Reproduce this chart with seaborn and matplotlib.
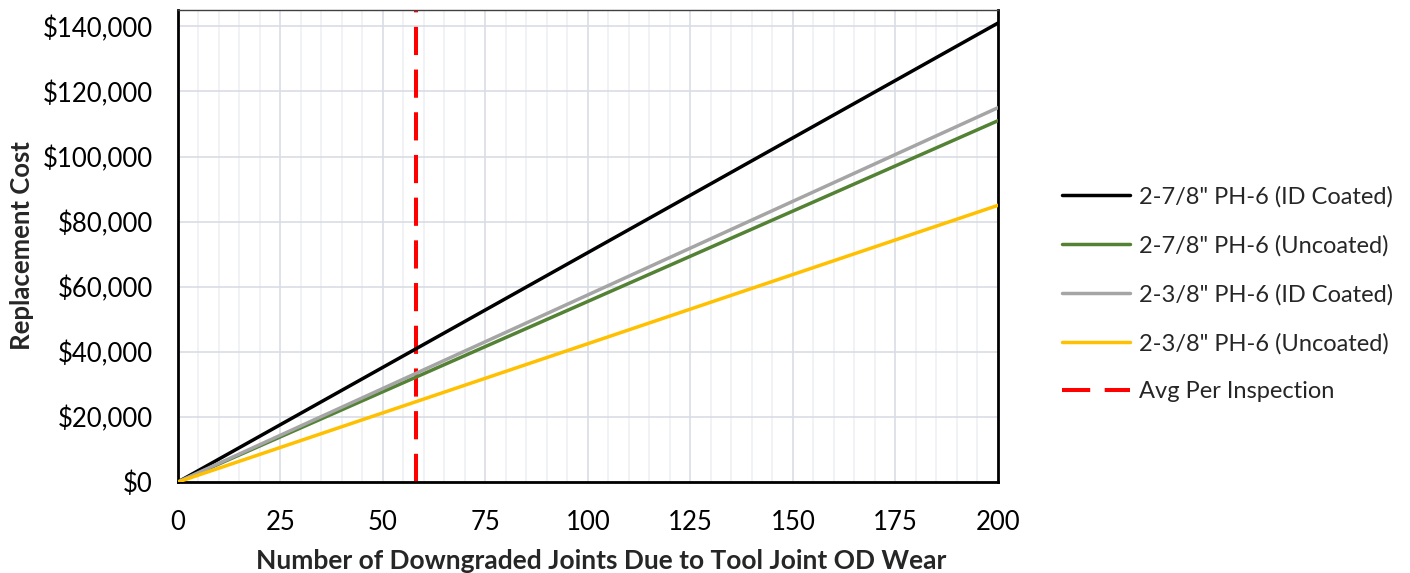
import matplotlib
matplotlib.use("Agg")
import matplotlib.pyplot as plt
import matplotlib.ticker as mticker
import seaborn as sns
import pandas as pd

# Data
joints = [0, 200]
series_names = ['2-7/8" PH-6 (ID Coated)', '2-7/8" PH-6 (Uncoated)',
                '2-3/8" PH-6 (ID Coated)', '2-3/8" PH-6 (Uncoated)']
cost_278_coated = [0, 141000]
cost_278_uncoated = [0, 111000]
cost_238_coated = [0, 115000]
cost_238_uncoated = [0, 85000]
avg_per_inspection = 58
avg_label = "Avg Per Inspection"
colors = ["#000000", "#548235", "#A5A5A5", "#FFC000"]

rows = []
for name, vals in zip(series_names, [cost_278_coated, cost_278_uncoated,
                                      cost_238_coated, cost_238_uncoated]):
    for x, y in zip(joints, vals):
        rows.append({"joints": x, "cost": y, "series": name})
df = pd.DataFrame(rows)

sns.set_theme(style="white")
plt.rcParams['font.family'] = ['Lato', 'DejaVu Sans']

FS = 18.5
fig = plt.figure(figsize=(14.1, 5.73), dpi=100)
ax = fig.add_axes([0.1262, 0.1588, 0.5816, 0.8237])

# grid
ax.set_xticks(range(0, 201, 25))
ax.set_xticks(range(0, 201, 5), minor=True)
ax.set_yticks(range(0, 140001, 20000))
ax.grid(which="major", axis="x", color="#D9DDE4", lw=1.2, zorder=0)
ax.grid(which="minor", axis="x", color="#EEF0F4", lw=1.2, zorder=0)
ax.grid(which="major", axis="y", color="#D9DDE4", lw=1.2, zorder=0)
ax.set_axisbelow(True)

ax.axvline(avg_per_inspection, color="#FF0000", lw=2.9, dashes=(7, 3.6),
           label=avg_label, zorder=1)
sns.lineplot(data=df, x="joints", y="cost", hue="series", hue_order=series_names,
             palette=colors, lw=2.5, ax=ax, zorder=3, legend=True)

ax.set_xlim(0, 200)
ax.set_ylim(0, 145000)
ax.yaxis.set_major_formatter(mticker.FuncFormatter(lambda v, p: f"${v:,.0f}"))
ax.tick_params(axis="both", which="both", length=0, labelsize=FS, colors="black")
ax.tick_params(axis="x", pad=20)
ax.tick_params(axis="y", pad=18)
ax.set_xlabel("Number of Downgraded Joints Due to Tool Joint OD Wear",
              fontsize=19, fontweight="bold", labelpad=10)
ax.xaxis.label.set_x(0.516)
ax.set_ylabel("Replacement Cost", fontsize=FS, fontweight="bold", labelpad=6)

for s in ["left", "bottom", "right"]:
    ax.spines[s].set_color("black")
    ax.spines[s].set_linewidth(2)
ax.spines["top"].set_color("#404040")
ax.spines["top"].set_linewidth(1)

handles, labels = ax.get_legend_handles_labels()
order = series_names + [avg_label]
hmap = dict(zip(labels, handles))
leg = ax.legend([hmap[l] for l in order], order, loc="center left",
                bbox_to_anchor=(1.078, 0.398), frameon=False, fontsize=17,
                handlelength=2.9, labelspacing=1.16, handletextpad=0.36,
                borderaxespad=0, borderpad=0)

fig.savefig("out.png", dpi=100)
